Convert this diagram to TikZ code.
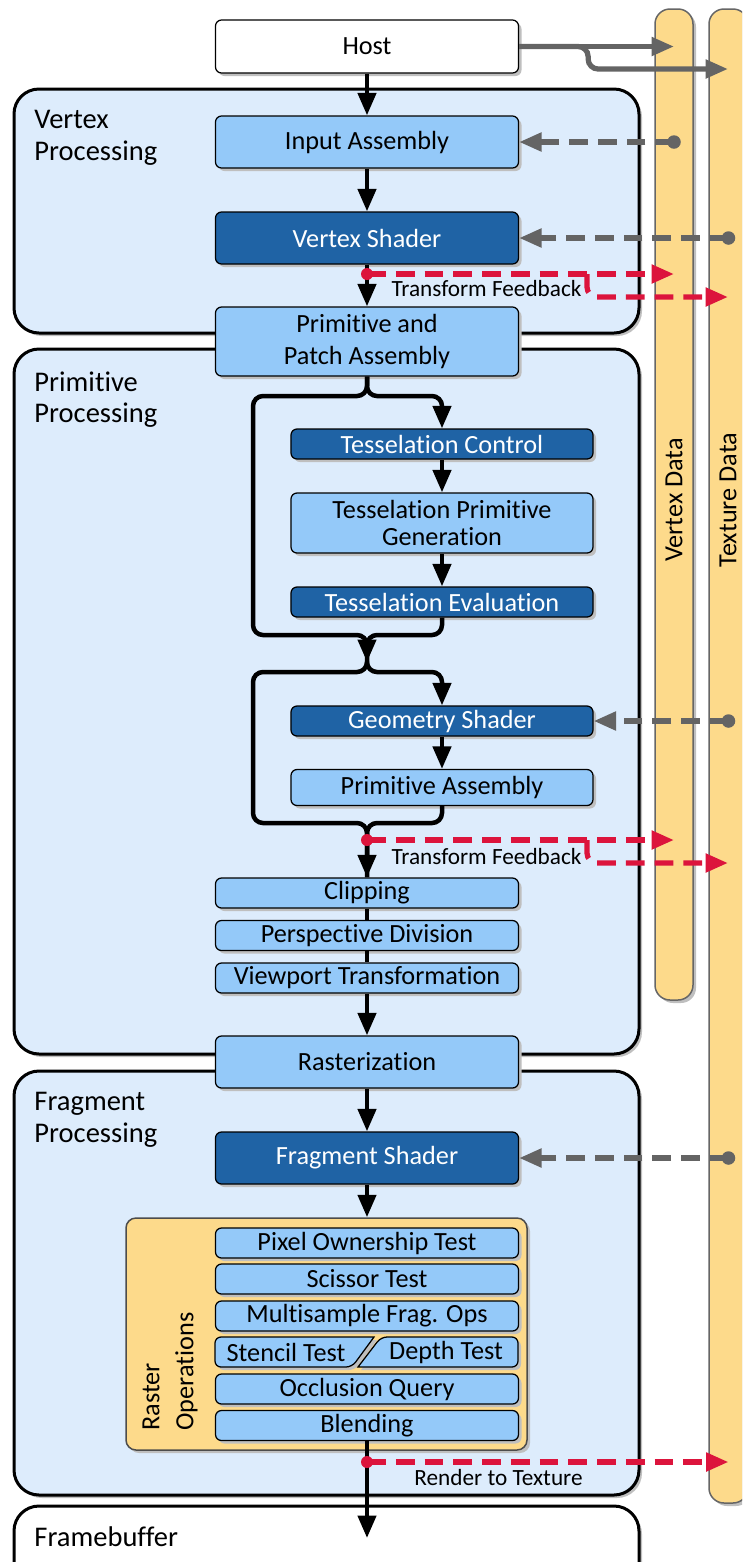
\documentclass[tikz,border=0pt]{standalone}
\usepackage{fontspec}
\setmainfont{Carlito}[Ligatures={NoCommon,NoContextual,NoRequired}, Contextuals=NoAlternate]
\usetikzlibrary{arrows.meta, positioning, fit, calc, shadows}

\definecolor{regionblue}{RGB}{221,236,252}
\definecolor{stagelight}{RGB}{148,201,249}
\definecolor{stagedark}{RGB}{31,99,165}
\definecolor{datayellow}{RGB}{253,218,139}
\definecolor{linkgray}{RGB}{100,100,100}
\definecolor{feedred}{RGB}{220,20,60}

\begin{document}
\begin{tikzpicture}[
    x=0.4pt, y=-0.4pt,
    font=\fontsize{10.5}{12.6}\selectfont,
    softshadow/.style={drop shadow={shadow xshift=1.2pt, shadow yshift=-1.2pt, fill=black!25, opacity=1}},
    region/.style={draw, line width=1.2pt, rounded corners=10pt, fill=regionblue, softshadow, inner sep=0pt},
    regionlabel/.style={anchor=north west, inner sep=0pt, align=left, font=\fontsize{11.4}{12.6}\selectfont},
    stage/.style={draw, line width=0.5pt, rounded corners=2.4pt, fill=stagelight, softshadow, minimum width=121.2pt, inner sep=0pt, align=center},
    shader/.style={stage, fill=stagedark, text=white},
    substage/.style={minimum width=120.8pt, minimum height=12pt},
    stagepath/.style={draw, line width=0.5pt, fill=stagelight, softshadow},
    datacol/.style={draw=black!60, line width=0.6pt, fill=datayellow, rounded corners=6pt, softshadow, inner sep=0pt},
    flow/.style={line width=1.8pt, -{Triangle[length=9pt, width=7.2pt]}},
    flowline/.style={line width=1.8pt},
    hostlink/.style={draw=linkgray, line width=2.1pt, -{Triangle[length=9pt, width=7.2pt]}},
    datalink/.style={draw=linkgray, line width=2.1pt, dash pattern=on 7.5pt off 4pt, -{Triangle[length=9pt, width=7.2pt]}},
    feedback/.style={draw=feedred, line width=2.1pt, dash pattern=on 7.5pt off 4pt, -{Triangle[length=9pt, width=7.2pt]}},
    feedlabel/.style={inner sep=0pt, font=\fontsize{9.3}{11}\selectfont}
  ]
  \clip (0,0) rectangle (742,1562);

  % Data columns
  \node[datacol, fit={(655,9) (693,1000)}] (vdata) {};
  \node[datacol, fit={(709,9) (748,1503)}] (tdata) {};
  \node[rotate=90] (vdatalabel) at (674,500) {Vertex Data};
  \node[rotate=90] (tdatalabel) at (728,500) {Texture Data};

  % Processing regions
  \node[region, fit={(14,89) (639,333)}] (vproc) {};
  \node[region, fit={(14,349) (639,1054)}] (pproc) {};
  \node[region, fit={(14,1071) (639,1495)}] (fproc) {};
  \node[region, fill=white, fit={(14,1506) (639,1640)}] (fbuf) {};
  \node[regionlabel] (vproclabel) at (34,110) {Vertex\\Processing};
  \node[regionlabel] (pproclabel) at (34,371) {Primitive\\Processing};
  \node[regionlabel] (fproclabel) at (34,1092) {Fragment\\Processing};
  \node[regionlabel, anchor=west] (fbuflabel) at (34,1537) {Framebuffer};

  % Stages
  \node[stage, fill=white, minimum height=21.2pt] (host) at (367,46.5) {Host};
  \node[stage, minimum height=20.8pt] (ia) at (367,142) {Input Assembly};
  \node[shader, minimum height=20.8pt] (vs) at (367,238) {Vertex Shader};
  \node[stage, minimum height=27.6pt, font=\fontsize{10.5}{12.8}\selectfont] (ppa) at (367,341.5) {Primitive and\\Patch Assembly};
  \node[shader, substage] (tc) at (442,444) {Tesselation Control};
  \node[stage, substage, minimum height=24pt, font=\fontsize{10.5}{10.8}\selectfont] (tpg) at (442,523) {Tesselation Primitive\\Generation};
  \node[shader, substage] (te) at (442,602) {Tesselation Evaluation};
  \node[shader, substage] (gs) at (442,721) {Geometry Shader};
  \node[stage, substage, minimum height=14.4pt] (pa) at (442,787.5) {Primitive Assembly};
  \node[stage, minimum height=12pt] (clip) at (367,893) {Clipping};
  \node[stage, minimum height=12pt] (pdiv) at (367,935.5) {Perspective Division};
  \node[stage, minimum height=12pt] (vport) at (367,978) {Viewport Transformation};
  \node[stage, minimum height=20.8pt] (rast) at (367,1062) {Rasterization};
  \node[shader, minimum height=20.8pt] (fs) at (367,1158) {Fragment Shader};

  % Raster operations
  \node[datacol, draw=black!70, rounded corners=4pt, fit={(126,1218) (527,1450)}] (rop) {};
  \node[rotate=90, anchor=west, align=left, inner sep=0pt, font=\fontsize{10.5}{13.6}\selectfont] (roplabel) at (170,1431) {Raster\\Operations};
  \node[stage, minimum height=12pt] (pot) at (367,1243) {Pixel Ownership Test};
  \node[stage, minimum height=12pt] (sci) at (367,1279) {Scissor Test};
  \node[stage, minimum height=12pt] (msf) at (367,1316) {Multisample Frag. Ops};
  \filldraw[stagepath] (374,1337) [rounded corners=2.4pt] -- (215,1337) -- (215,1367) -- (352,1367) [sharp corners] -- cycle;
  \filldraw[stagepath] (358,1367) [rounded corners=2.4pt] -- (518,1367) -- (518,1337) -- (381,1337) [sharp corners] -- cycle;
  \node (stencil) at (286,1352) {Stencil Test};
  \node (depth) at (446,1352) {Depth Test};
  \node[stage, minimum height=12pt] (occ) at (367,1389) {Occlusion Query};
  \node[stage, minimum height=12pt] (blend) at (367,1425.5) {Blending};

  % Main flow
  \coordinate (split1) at (367,396);
  \coordinate (bend1) at (253,635);
  \coordinate (join1) at (367,662);
  \coordinate (split2) at (367,672);
  \coordinate (bend2) at (253,823);
  \coordinate (fbin) at (367,1538);
  \draw[flow] (host) -- (ia);
  \draw[flow] (ia) -- (vs);
  \draw[flow] (vs) -- (ppa);
  \draw[flow, rounded corners=4pt] (ppa.south) -- (split1) -| (tc.north);
  \draw[flow, rounded corners=4pt] (ppa.south) -- (split1) -| (bend1) -| (join1);
  \draw[flowline, rounded corners=4pt] (te.south) -- (te.south |- bend1) -| (join1);
  \draw[flow] (tc) -- (tpg);
  \draw[flow] (tpg) -- (te);
  \draw[flow, rounded corners=4pt] (join1) -- (split2) -| (gs.north);
  \draw[flow, rounded corners=4pt] (join1) -- (split2) -| (bend2) -| (clip.north);
  \draw[flow] (gs) -- (pa);
  \draw[flowline, rounded corners=4pt] (pa.south) -- (pa.south |- bend2) -| (clip.north);
  \draw[flowline] (clip) -- (pdiv);
  \draw[flowline] (pdiv) -- (vport);
  \draw[flow] (vport) -- (rast);
  \draw[flow] (rast) -- (fs);
  \draw[flow] (fs.south) -- (fs.south |- rop.north);
  \draw[flow] (blend.south) -- (fbin);

  % Host data
  \coordinate (hosttex) at (728,69);
  \draw[hostlink] (host.east) -- (host.east -| vdata.center);
  \draw[hostlink, rounded corners=4pt] (host.east) -- ++(69,0) |- (hosttex);

  % Data reads
  \draw[datalink] (ia.east -| vdata.center) -- (ia.east);
  \draw[datalink] (vs.east -| tdata.center) -- (vs.east);
  \draw[datalink] (gs.east -| tdata.center) -- (gs.east);
  \draw[datalink] (fs.east -| tdata.center) -- (fs.east);
  \fill[linkgray] (ia.east -| vdata.center) circle (2.7pt);
  \fill[linkgray] (vs.east -| tdata.center) circle (2.7pt);
  \fill[linkgray] (gs.east -| tdata.center) circle (2.7pt);
  \fill[linkgray] (fs.east -| tdata.center) circle (2.7pt);

  % Feedback paths
  \coordinate (tf1) at (367,274);
  \coordinate (tf1tex) at (728,297);
  \coordinate (tf2) at (367,840);
  \coordinate (tf2tex) at (728,863);
  \coordinate (rtt) at (367,1462);
  \draw[feedback] (tf1) -- (tf1 -| vdata.center);
  \draw[feedback, rounded corners=4pt] (tf1) ++(220,0) |- (tf1tex);
  \draw[feedback] (tf2) -- (tf2 -| vdata.center);
  \draw[feedback, rounded corners=4pt] (tf2) ++(220,0) |- (tf2tex);
  \draw[feedback] (rtt) -- (rtt -| tdata.center);
  \fill[feedred] (tf1) circle (2.4pt);
  \fill[feedred] (tf2) circle (2.4pt);
  \fill[feedred] (rtt) circle (2.4pt);
  \node[feedlabel] (tf1label) at (486.5,289) {Transform Feedback};
  \node[feedlabel] (tf2label) at (486.5,856) {Transform Feedback};
  \node[feedlabel] (rttlabel) at (498.5,1477) {Render to Texture};
\end{tikzpicture}
\end{document}
